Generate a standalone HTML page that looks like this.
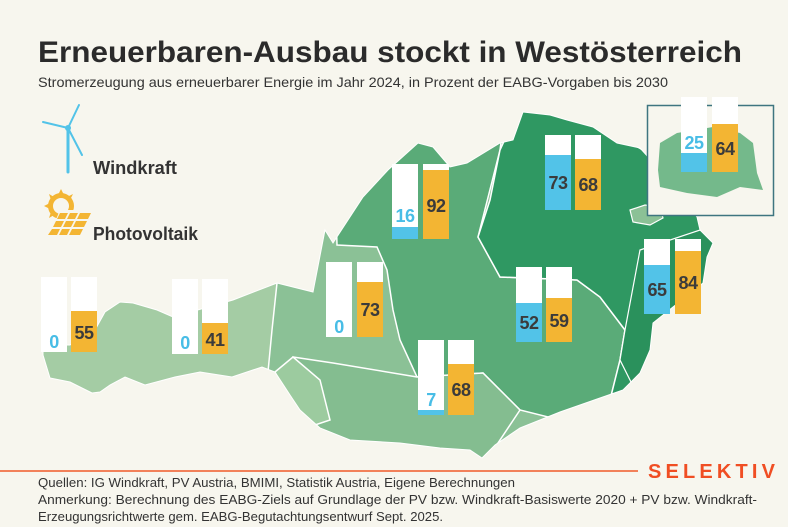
<!DOCTYPE html>
<html><head><meta charset="utf-8">
<style>
body{margin:0;background:#f7f6ee;}
#c{position:relative;width:788px;height:527px;overflow:hidden;background:#f7f6ee;font-family:"Liberation Sans",sans-serif;}
.b{position:absolute;width:26px;height:75px;background:#fff;}
.f{position:absolute;left:0;right:0;bottom:0;}
.w .f{background:#52c3e8;}
.o .f{background:#f3b533;}
.l{position:absolute;width:26px;text-align:center;height:20px;line-height:20px;font-weight:bold;font-size:18px;color:#3b3b3b;letter-spacing:-0.5px;}
.lb{color:#48bde6;}
svg{position:absolute;left:0;top:0;}
</style></head><body><div id="c">
<svg width="788" height="527" viewBox="0 0 788 527">
<defs>
<clipPath id="at"><polygon id="aut" points="43,355 50,378 70,382 92,393 100,392 110,385 125,377 145,385 175,377 200,372 232,377 262,367 275,372 290,395 300,410 320,428 350,440 400,443 440,448 470,450 482,458 495,445 520,428 560,412 600,398 623,390 640,373 650,350 653,323 673,307 703,283 707,257 713,243 700,230 697,217 680,195 660,170 640,148 617,143 593,127 567,120 550,115 523,112 513,140 500,143 467,163 450,167 433,147 418,143 388,170 363,197 333,243 325,230 313,292 277,283 233,300 173,317 157,310 133,303 120,302 105,312 95,330 70,345 43,345"/></clipPath>
</defs>
<text x="38" y="62" font-family="Liberation Sans" font-weight="bold" font-size="30" fill="#2b2b2b" textLength="704" lengthAdjust="spacingAndGlyphs">Erneuerbaren-Ausbau stockt in Westösterreich</text>
<text x="38" y="87" font-family="Liberation Sans" font-size="14" fill="#333" textLength="630" lengthAdjust="spacingAndGlyphs">Stromerzeugung aus erneuerbarer Energie im Jahr 2024, in Prozent der EABG-Vorgaben bis 2030</text>
<g clip-path="url(#at)">
<rect x="0" y="0" width="788" height="527" fill="#8bc196"/>
<polygon points="0,0 277,0 277,283 272,330 268,372 285,500 0,500" fill="#a4cca4" stroke="#fff" stroke-width="1.5"/>
<polygon points="330,0 520,0 500,150 478,237 500,277 577,280 600,297 625,330 620,360 610,400 560,420 520,410 483,373 417,377 400,340 393,310 387,270 377,247 337,245" fill="#5aab78" stroke="#fff" stroke-width="1.5"/>
<polygon points="500,150 523,100 567,110 617,135 660,160 720,217 720,300 660,400 610,400 620,360 625,330 600,297 577,280 500,277 478,237 490,200" fill="#2f9862" stroke="#fff" stroke-width="1.5"/>
<polygon points="625,330 640,250 700,230 720,240 720,400 640,400 620,360" fill="#2a915c" stroke="#fff" stroke-width="1.2"/>
<polygon points="293,357 333,363 417,377 483,373 520,410 480,470 280,470" fill="#84bd90" stroke="#fff" stroke-width="1.5"/>
<polygon points="275,372 293,357 320,380 330,420 300,430" fill="#9ccb9f" stroke="#fff" stroke-width="1.5"/>
<polygon points="630,210 645,205 660,207 663,218 650,225 633,222" fill="#8bc196" stroke="#fff" stroke-width="1.2"/>
</g>
<use href="#aut" fill="none" stroke="#fff" stroke-width="1"/>
<rect x="647.5" y="105.5" width="126" height="110" fill="#f7f6ee" stroke="#3e7580" stroke-width="1.5"/>
<polygon points="660,143 677,133 713,127 740,133 753,143 757,173 763,190 740,187 717,197 687,193 660,187 658,170" fill="#74b98b"/>
<!-- wind icon -->
<g stroke="#52c3e8" stroke-linecap="round" fill="none">
<line x1="68" y1="130" x2="68" y2="172" stroke-width="3"/>
<line x1="68" y1="128" x2="79" y2="105" stroke-width="2"/>
<line x1="68" y1="128" x2="43" y2="122" stroke-width="2"/>
<line x1="68" y1="128" x2="82" y2="155" stroke-width="2"/>
</g>
<circle cx="68" cy="128" r="3" fill="#52c3e8"/>
<text x="93" y="174" font-family="Liberation Sans" font-weight="bold" font-size="18" fill="#333" textLength="84" lengthAdjust="spacingAndGlyphs">Windkraft</text>
<!-- solar icon -->
<g fill="#f3b533">
<circle cx="61" cy="206" r="13"/>
<circle cx="61" cy="206" r="8" fill="#f7f6ee"/>
<polygon points="61,189 64,195 58,195"/>
<polygon points="44,206 50,203 50,209"/>
<polygon points="49,194 54,197 51,200"/>
<polygon points="73,194 70,200 67,197"/>
<polygon points="49,218 51,212 54,215"/>
<polygon points="60,210 92,210 82,238 48,238" fill="#f7f6ee"/>
</g>
<g fill="#f3b533">
<polygon points="60,213 68,213 65,219 57,219"/><polygon points="70,213 78,213 75,219 67,219"/><polygon points="80,213 91,213 88,219 77,219"/>
<polygon points="56,221 64,221 61,227 53,227"/><polygon points="66,221 74,221 71,227 63,227"/><polygon points="76,221 87,221 84,227 73,227"/>
<polygon points="52,229 60,229 57,235 48,235"/><polygon points="62,229 70,229 67,235 59,235"/><polygon points="72,229 83,229 80,235 69,235"/>
</g>
<text x="93" y="240" font-family="Liberation Sans" font-weight="bold" font-size="18" fill="#333" textLength="105" lengthAdjust="spacingAndGlyphs">Photovoltaik</text>
<line x1="0" y1="471" x2="638" y2="471" stroke="#f05a28" stroke-width="1.5"/>
<text x="648" y="478" font-family="Liberation Sans" font-weight="bold" font-size="20" fill="#f04e23" textLength="127" lengthAdjust="spacing">SELEKTIV</text>
<g font-family="Liberation Sans" font-size="12.5" fill="#333">
<text x="38" y="487" textLength="477" lengthAdjust="spacingAndGlyphs">Quellen: IG Windkraft, PV Austria, BMIMI, Statistik Austria, Eigene Berechnungen</text>
<text x="38" y="504" textLength="719" lengthAdjust="spacingAndGlyphs">Anmerkung: Berechnung des EABG-Ziels auf Grundlage der PV bzw. Windkraft-Basiswerte 2020 + PV bzw. Windkraft-</text>
<text x="38" y="521" textLength="405" lengthAdjust="spacingAndGlyphs">Erzeugungsrichtwerte gem. EABG-Begutachtungsentwurf Sept. 2025.</text>
</g>
</svg>

<!-- Vorarlberg -->
<div class="b w" style="left:41px;top:277px"><div class="f" style="height:0"></div></div>
<div class="b o" style="left:71px;top:277px"><div class="f" style="height:41px"></div></div>
<div class="l lb" style="left:41px;top:332px">0</div>
<div class="l" style="left:71px;top:323px">55</div>
<!-- Tirol -->
<div class="b w" style="left:172px;top:279px"></div>
<div class="b o" style="left:202px;top:279px"><div class="f" style="height:31px"></div></div>
<div class="l lb" style="left:172px;top:333px">0</div>
<div class="l" style="left:202px;top:330px">41</div>
<!-- Salzburg -->
<div class="b w" style="left:326px;top:262px"></div>
<div class="b o" style="left:357px;top:262px"><div class="f" style="height:55px"></div></div>
<div class="l lb" style="left:326px;top:317px">0</div>
<div class="l" style="left:357px;top:300px">73</div>
<!-- OÖ -->
<div class="b w" style="left:392px;top:164px"><div class="f" style="height:12px"></div></div>
<div class="b o" style="left:423px;top:164px"><div class="f" style="height:69px"></div></div>
<div class="l lb" style="left:392px;top:206px">16</div>
<div class="l" style="left:423px;top:196px">92</div>
<!-- Kärnten -->
<div class="b w" style="left:418px;top:340px"><div class="f" style="height:5px"></div></div>
<div class="b o" style="left:448px;top:340px"><div class="f" style="height:51px"></div></div>
<div class="l lb" style="left:418px;top:390px">7</div>
<div class="l" style="left:448px;top:380px">68</div>
<!-- NÖ -->
<div class="b w" style="left:545px;top:135px"><div class="f" style="height:55px"></div></div>
<div class="b o" style="left:575px;top:135px"><div class="f" style="height:51px"></div></div>
<div class="l" style="left:545px;top:173px">73</div>
<div class="l" style="left:575px;top:175px">68</div>
<!-- Wien -->
<div class="b w" style="left:681px;top:97px"><div class="f" style="height:19px"></div></div>
<div class="b o" style="left:712px;top:97px"><div class="f" style="height:48px"></div></div>
<div class="l lb" style="left:681px;top:133px">25</div>
<div class="l" style="left:712px;top:139px">64</div>
<!-- Burgenland -->
<div class="b w" style="left:644px;top:239px"><div class="f" style="height:49px"></div></div>
<div class="b o" style="left:675px;top:239px"><div class="f" style="height:63px"></div></div>
<div class="l" style="left:644px;top:280px">65</div>
<div class="l" style="left:675px;top:273px">84</div>
<!-- Steiermark -->
<div class="b w" style="left:516px;top:267px"><div class="f" style="height:39px"></div></div>
<div class="b o" style="left:546px;top:267px"><div class="f" style="height:44px"></div></div>
<div class="l" style="left:516px;top:313px">52</div>
<div class="l" style="left:546px;top:311px">59</div>
</div></body></html>
